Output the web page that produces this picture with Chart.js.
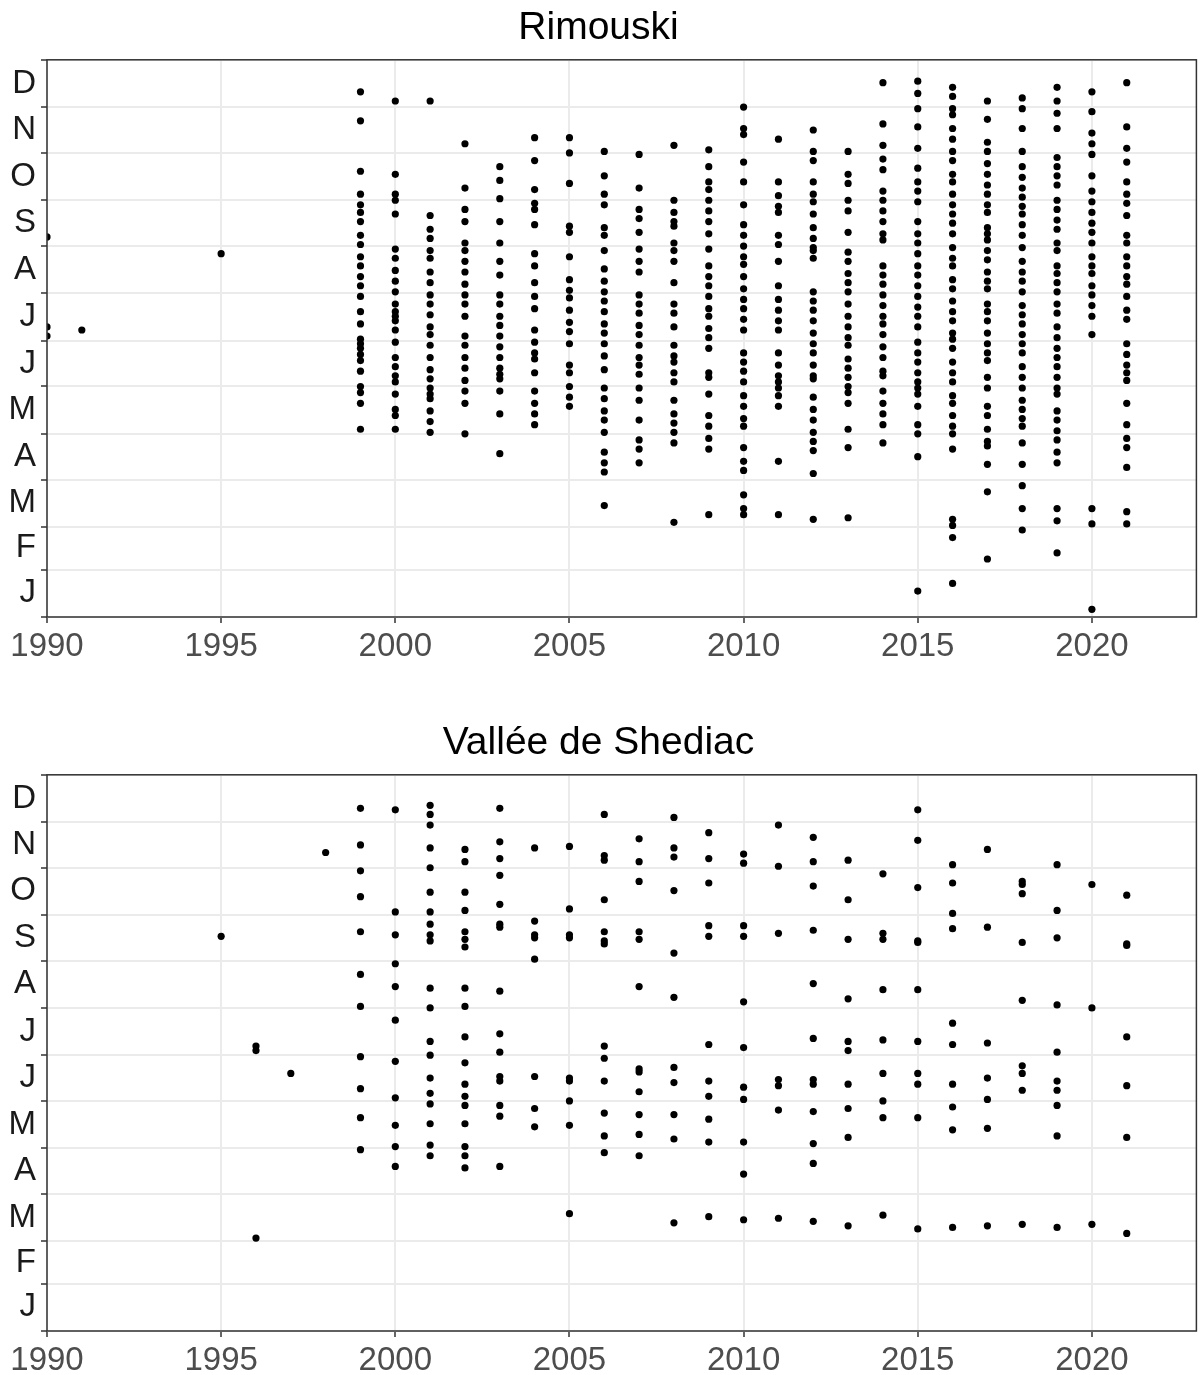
<!DOCTYPE html>
<html>
<head>
<meta charset="utf-8">
<title>Rimouski / Vallée de Shediac</title>
<script src="https://cdn.jsdelivr.net/npm/chart.js@4.4.0/dist/chart.umd.min.js"></script>
<style>
    body { margin: 0; background: #ffffff; }
    .panel { position: absolute; left: 0; width: 1200px; }
</style>
</head>
<body>
<div class="panel" style="top:0;height:661px"><canvas id="rimouski-canvas" width="1200" height="661"></canvas></div>
<div class="panel" style="top:715px;height:660px"><canvas id="shediac-canvas" width="1200" height="660"></canvas></div>
<script>
// Axis setup
const monthLetters = ['J', 'F', 'M', 'A', 'M', 'J', 'J', 'A', 'S', 'O', 'N', 'D'];
const monthStarts = [0, 31, 59, 90, 120, 151, 181, 212, 243, 273, 304, 334, 365];
const yearTicks = [1990, 1995, 2000, 2005, 2010, 2015, 2020];

// Rimouski - day of year of each observation, one list per year
const rimouskiYears = [1990, 1991, 1995, 1999, 2000, 2001, 2002, 2003, 2004, 2005, 2006, 2007, 2008,
    2009, 2010, 2011, 2012, 2013, 2014, 2015, 2016, 2017, 2018, 2019, 2020, 2021];
const rimouskiDays = [
    [249, 190, 184],
    [188],
    [238],
    [344, 325, 292, 277, 270, 265, 259, 250, 244, 236, 230, 223, 217, 210, 200, 192, 182, 179, 176, 172, 168, 161, 151, 147, 140, 123],
    [338, 290, 277, 273, 264, 241, 235, 227, 220, 213, 205, 200, 197, 194, 188, 180, 170, 164, 158, 154, 146, 136, 132, 123],
    [338, 263, 254, 248, 240, 235, 226, 219, 211, 205, 198, 190, 185, 178, 170, 162, 156, 150, 146, 143, 135, 128, 121],
    [310, 281, 267, 259, 245, 240, 233, 226, 218, 211, 205, 197, 184, 178, 170, 163, 155, 148, 140, 120],
    [295, 286, 274, 259, 245, 233, 224, 211, 205, 197, 191, 184, 177, 170, 163, 159, 156, 148, 133, 107],
    [314, 299, 280, 271, 267, 257, 238, 230, 219, 210, 202, 188, 180, 173, 169, 160, 148, 140, 133, 126],
    [314, 304, 284, 256, 252, 236, 221, 214, 209, 201, 193, 187, 179, 165, 160, 151, 144, 138],
    [305, 289, 277, 270, 255, 250, 240, 228, 220, 213, 207, 200, 192, 186, 179, 171, 162, 150, 143, 135, 129, 121, 108, 101, 95, 73],
    [303, 281, 267, 261, 252, 241, 233, 226, 211, 205, 199, 191, 185, 178, 170, 165, 159, 150, 142, 129, 116, 110, 101],
    [309, 273, 265, 259, 256, 245, 240, 233, 219, 205, 199, 190, 178, 171, 167, 160, 154, 142, 133, 127, 121, 114, 62],
    [306, 295, 285, 280, 273, 266, 259, 251, 241, 230, 223, 217, 210, 202, 197, 189, 183, 176, 160, 157, 146, 132, 125, 117, 110, 67],
    [334, 320, 316, 298, 285, 270, 257, 250, 243, 236, 231, 223, 215, 208, 202, 195, 188, 173, 167, 161, 154, 145, 138, 130, 125, 111, 102, 96, 80, 71, 67],
    [313, 285, 276, 269, 265, 250, 244, 233, 217, 208, 201, 194, 188, 173, 165, 158, 154, 150, 145, 138, 102, 67],
    [319, 305, 299, 285, 277, 272, 264, 255, 248, 242, 240, 235, 213, 207, 201, 194, 186, 179, 173, 165, 158, 156, 144, 136, 129, 121, 115, 109, 94, 64],
    [305, 290, 284, 273, 266, 252, 239, 233, 225, 219, 213, 205, 197, 190, 183, 178, 169, 163, 157, 151, 147, 140, 123, 111, 65],
    [350, 323, 309, 300, 293, 279, 273, 266, 259, 251, 247, 230, 224, 218, 211, 204, 197, 192, 185, 177, 170, 161, 158, 148, 140, 133, 126, 114],
    [351, 343, 333, 321, 307, 294, 285, 279, 272, 259, 251, 245, 238, 230, 224, 217, 210, 203, 197, 190, 180, 173, 167, 160, 154, 150, 146, 138, 126, 120, 105, 17],
    [347, 341, 333, 329, 320, 313, 305, 299, 290, 285, 277, 270, 264, 258, 251, 242, 235, 230, 221, 215, 207, 200, 194, 186, 182, 176, 167, 160, 154, 145, 140, 132, 125, 120, 110, 64, 60, 52, 22],
    [338, 326, 311, 305, 297, 290, 283, 277, 270, 265, 255, 251, 247, 240, 234, 226, 220, 215, 205, 200, 194, 186, 179, 173, 168, 157, 150, 138, 132, 123, 115, 112, 100, 82, 38],
    [340, 333, 320, 305, 295, 288, 281, 275, 269, 264, 257, 250, 242, 233, 226, 220, 213, 204, 198, 192, 185, 179, 173, 164, 157, 150, 142, 136, 130, 125, 114, 100, 86, 71, 57],
    [347, 338, 330, 320, 301, 295, 289, 283, 273, 267, 260, 254, 245, 240, 230, 225, 219, 213, 205, 199, 190, 183, 176, 170, 164, 157, 150, 146, 135, 129, 122, 116, 108, 101, 71, 63, 42],
    [344, 331, 317, 310, 303, 289, 279, 272, 265, 258, 252, 245, 236, 230, 225, 217, 211, 204, 197, 185, 71, 61, 5],
    [350, 321, 307, 298, 285, 277, 271, 263, 250, 245, 236, 230, 223, 218, 210, 201, 195, 179, 172, 165, 160, 155, 140, 126, 117, 111, 98, 69, 61]
];

// Vallée de Shediac
const shediacYears = [1995, 1996, 1997, 1998, 1999, 2000, 2001, 2002, 2003, 2004, 2005, 2006, 2007,
    2008, 2009, 2010, 2011, 2012, 2013, 2014, 2015, 2016, 2017, 2018, 2019, 2020, 2021];
const shediacDays = [
    [259],
    [187, 184, 61],
    [169],
    [314],
    [343, 319, 302, 285, 262, 234, 213, 180, 159, 140, 119],
    [342, 275, 260, 241, 226, 204, 177, 153, 135, 121, 108],
    [345, 339, 332, 317, 304, 288, 275, 267, 260, 256, 225, 212, 190, 181, 166, 156, 149, 136, 122, 115],
    [316, 308, 288, 276, 262, 257, 252, 225, 213, 193, 176, 162, 154, 148, 136, 121, 115, 107],
    [343, 321, 310, 299, 280, 267, 265, 223, 195, 183, 167, 164, 148, 141, 108],
    [317, 269, 260, 258, 244, 167, 146, 134],
    [318, 277, 260, 258, 166, 164, 151, 135, 77],
    [339, 312, 309, 283, 262, 256, 254, 187, 179, 164, 143, 128, 117],
    [323, 308, 295, 262, 257, 226, 172, 170, 157, 142, 129, 115],
    [337, 317, 311, 289, 248, 219, 173, 163, 142, 126, 71],
    [327, 310, 294, 266, 259, 188, 164, 154, 139, 124, 75],
    [313, 307, 266, 259, 216, 186, 160, 152, 124, 103, 73],
    [332, 305, 261, 165, 161, 145, 74],
    [324, 308, 292, 263, 228, 192, 165, 162, 144, 123, 110, 72],
    [309, 283, 257, 218, 190, 184, 162, 146, 127, 69],
    [300, 261, 257, 224, 191, 169, 151, 140, 76],
    [342, 322, 291, 256, 255, 224, 190, 169, 162, 140, 67],
    [306, 294, 274, 264, 202, 188, 162, 147, 132, 68],
    [316, 265, 189, 166, 152, 133, 69],
    [295, 293, 287, 255, 217, 174, 169, 158, 70],
    [306, 276, 258, 214, 183, 164, 158, 148, 128, 68],
    [293, 212, 70],
    [286, 254, 253, 193, 161, 127, 64]
];

const FONT = "'Liberation Sans', Arial, sans-serif";

// month boundaries carry grid lines + tick marks, month middles carry the letters
const monthMids = monthLetters.map((m, i) => (monthStarts[i] + monthStarts[i + 1]) / 2);
const yTickValues = monthStarts.concat(monthMids).sort((a, b) => a - b);

function isMonthStart(v) {
    return monthStarts.indexOf(v) !== -1;
}

function buildPoints(years, days) {
    const points = [];
    years.forEach((yr, i) => {
        days[i].forEach(d => points.push({ x: yr, y: d }));
    });
    return points;
}

// ggplot-like panel border drawn on top
const panelBorder = {
    id: 'panelBorder',
    afterDraw(chart) {
        const { ctx, chartArea: a } = chart;
        ctx.save();
        ctx.strokeStyle = '#333333';
        ctx.lineWidth = 1.5;
        ctx.strokeRect(a.left, a.top, a.right - a.left, a.bottom - a.top);
        ctx.restore();
    }
};

function createPanel(canvasId, title, years, days) {
    const ctx = document.getElementById(canvasId);

    const config = {
        type: 'scatter',
        data: {
            datasets: [{
                data: buildPoints(years, days),
                backgroundColor: '#000000',
                borderWidth: 0,
                pointRadius: 3.6,
                pointHoverRadius: 3.6,
                clip: 0
            }]
        },
        options: {
            responsive: false,
            animation: false,
            devicePixelRatio: 1,
            events: [],
            layout: {
                padding: { left: 0, right: 3, top: 0, bottom: 0 }
            },
            plugins: {
                legend: { display: false },
                tooltip: { enabled: false },
                title: {
                    display: true,
                    text: title,
                    color: '#000000',
                    font: { family: FONT, size: 39, weight: 'normal' },
                    padding: { top: 5, bottom: 8 }
                }
            },
            scales: {
                x: {
                    type: 'linear',
                    min: 1990,
                    max: 2023,
                    afterBuildTicks: (scale) => {
                        scale.ticks = yearTicks.map(v => ({ value: v }));
                    },
                    afterFit: (scale) => { scale.height = 44; },
                    border: { display: false },
                    grid: {
                        color: '#ebebeb',
                        lineWidth: 2,
                        tickColor: '#333333',
                        tickWidth: 1.5,
                        tickLength: 6
                    },
                    ticks: {
                        autoSkip: false,
                        maxRotation: 0,
                        padding: 4,
                        color: '#4d4d4d',
                        font: { family: FONT, size: 33 },
                        callback: (value) => String(value)
                    }
                },
                y: {
                    type: 'linear',
                    min: 0,
                    max: 365,
                    afterBuildTicks: (scale) => {
                        scale.ticks = yTickValues.map(v => ({ value: v }));
                    },
                    afterFit: (scale) => { scale.width = 47; },
                    border: { display: false },
                    grid: {
                        color: (c) => (c.tick && isMonthStart(c.tick.value)) ? '#ebebeb' : 'rgba(0,0,0,0)',
                        lineWidth: 2,
                        tickColor: (c) => (c.tick && isMonthStart(c.tick.value)) ? '#333333' : 'rgba(0,0,0,0)',
                        tickWidth: 1.5,
                        tickLength: 6
                    },
                    ticks: {
                        autoSkip: false,
                        padding: 5,
                        color: '#1a1a1a',
                        font: { family: FONT, size: 33 },
                        callback: (value) => {
                            const i = monthMids.indexOf(value);
                            return i === -1 ? '' : monthLetters[i];
                        }
                    }
                }
            }
        },
        plugins: [panelBorder]
    };

    return new Chart(ctx, config);
}

createPanel('rimouski-canvas', 'Rimouski', rimouskiYears, rimouskiDays);
createPanel('shediac-canvas', 'Vallée de Shediac', shediacYears, shediacDays);
</script>
</body>
</html>
